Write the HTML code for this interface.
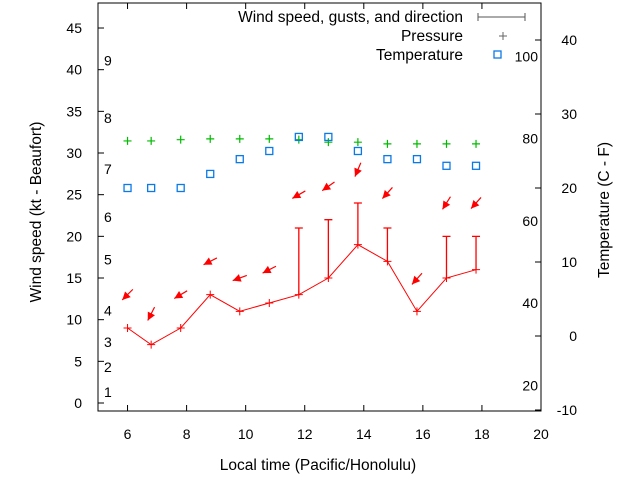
<!DOCTYPE html>
<html><head><meta charset="utf-8"><style>
body{margin:0;background:#fff}
svg{display:block;font-family:"Liberation Sans",sans-serif;font-size:14px}
.big{font-size:15.5px}
</style></head><body>
<svg id="chart" width="640" height="480">
<rect x="0" y="0" width="640" height="480" fill="#fff"/>
<g id="axes"></g><g id="series"></g>
</svg>
<script>
const times=[6,6.8,7.8,8.8,9.8,10.8,11.8,12.8,13.8,14.8,15.8,16.8,17.8];
const wind=[9,7,9,13,11,12,13,15,19,17,11,15,16];
const gusts=[null,null,null,null,null,null,21,22,24,21,null,20,20];
const arrowLevel=[13,10.7,13,17,15,16,25,26,28,25.2,14.9,24,24];
const windDirFrom=[45,27,59,63,70,63,60,55,23,42,42,32,42];
const pressure=[31.45,31.45,31.6,31.7,31.7,31.7,31.6,31.3,31.3,31.1,31.1,31.1,31.1];
const tempC=[20,20,20,21.9,23.9,25,26.9,26.9,25,23.9,23.9,23,23];
const xTicks=[6,8,10,12,14,16,18,20];
const yTicks=[0,5,10,15,20,25,30,35,40,45];
const cTicks=[-10,0,10,20,30,40];
const fTicks=[20,40,60,80,100];
const beaufort=[[1,1.3],[2,4.3],[3,7.3],[4,11.1],[5,17.2],[6,22.3],[7,28.1],[8,34.2],[9,41.1]];
const L=98,R=541,T=3,B=411;
const X=v=>L+(v-5)/15*(R-L);
const Y=v=>403-v*8.333;
const YC=c=>336-c*7.4;
const YF=f=>YC((f-32)*5/9);
const NS="http://www.w3.org/2000/svg";
function mk(p,tag,a,txt){const e=document.createElementNS(NS,tag);for(const k in a)e.setAttribute(k,a[k]);if(txt!=null)e.textContent=txt;p.appendChild(e);return e;}
const ax=document.getElementById('axes'),se=document.getElementById('series');
let e=mk(ax,'rect',{x:L,y:T,width:R-L,height:B-T,fill:'none',stroke:'#000','stroke-width':1});


xTicks.forEach(t=>{const x=X(t);
mk(ax,'line',{x1:x,y1:B,x2:x,y2:B-6,stroke:'#000'});mk(ax,'line',{x1:x,y1:T,x2:x,y2:T+6,stroke:'#000'});
e=mk(ax,'text',{x:x,y:439,'text-anchor':'middle'},t);

});
yTicks.forEach(t=>{const y=Y(t);mk(ax,'line',{x1:L,y1:y,x2:L+6,y2:y,stroke:'#000'});
e=mk(ax,'text',{x:82,y:y+5,'text-anchor':'end'},t);

});
cTicks.forEach(t=>{const y=YC(t);mk(ax,'line',{x1:R,y1:y,x2:R-6,y2:y,stroke:'#000'});
e=mk(ax,'text',{x:577,y:y+5,'text-anchor':'end'},t);

});
fTicks.forEach(t=>{e=mk(ax,'text',{x:538,y:YF(t)+5,'text-anchor':'end'},t);

});
beaufort.forEach(b=>{e=mk(ax,'text',{x:104,y:Y(b[1])+5},b[0]);

});
e=mk(ax,'text',{x:318,y:470,'text-anchor':'middle','class':'big'},'Local time (Pacific/Honolulu)');


e=mk(ax,'text',{x:41,y:212,'text-anchor':'middle','class':'big',transform:'rotate(-90 41 212)'},'Wind speed (kt - Beaufort)');


e=mk(ax,'text',{x:609,y:210,'text-anchor':'middle','class':'big',transform:'rotate(-90 609 210)'},'Temperature (C - F)');


e=mk(ax,'text',{x:463,y:22,'text-anchor':'end','class':'big'},'Wind speed, gusts, and direction');


mk(ax,'path',{d:'M478 17H525M478 13V21M525 13V21',stroke:'#555',fill:'none'});
e=mk(ax,'text',{x:463,y:41,'text-anchor':'end','class':'big'},'Pressure');


mk(ax,'path',{d:'M499 36H507M503 32V40',stroke:'#666'});
e=mk(ax,'text',{x:463,y:60,'text-anchor':'end','class':'big'},'Temperature');


mk(ax,'rect',{x:494,y:51,width:7,height:7,fill:'none',stroke:'#0a7ae8','stroke-width':1.3});
e=mk(se,'polyline',{points:times.map((t,i)=>X(t)+','+Y(wind[i])).join(' '),fill:'none',stroke:'#f00'});


times.forEach((t,i)=>{const x=X(t),y=Y(wind[i]);
e=mk(se,'path',{d:`M${x-4} ${y}H${x+4}M${x} ${y-4}V${y+4}`,stroke:'#f00'});


if(gusts[i]!=null){const g=Y(gusts[i]);
e=mk(se,'path',{d:`M${x} ${y}V${g}M${x-4} ${g}H${x+4}`,stroke:'#f00','stroke-width':1.3});

}
const a=(windDirFrom[i]+180)*Math.PI/180, dx=Math.sin(a)*7.5, dy=-Math.cos(a)*7.5;
const cx=x,cy=Y(arrowLevel[i]);
const hx=cx+dx,hy=cy+dy,tx=cx-dx,ty=cy-dy;
const ux=dx/7.5,uy=dy/7.5;
const p1=(hx-ux*8-uy*4)+','+(hy-uy*8+ux*4),p2=(hx-ux*8+uy*4)+','+(hy-uy*8-ux*4);
e=mk(se,'g',{});


mk(e,'line',{x1:tx,y1:ty,x2:hx,y2:hy,stroke:'#f00','stroke-width':1.2});
mk(e,'polygon',{points:`${hx},${hy} ${p1} ${p2}`,fill:'#f00'});
const py=Y(pressure[i]);
e=mk(se,'path',{d:`M${x-4} ${py}H${x+4}M${x} ${py-4}V${py+4}`,stroke:'#0b0','stroke-width':1.2});


const ty2=YC(tempC[i]);
e=mk(se,'rect',{x:x-3.5,y:ty2-3.5,width:7,height:7,fill:'none',stroke:'#0a7ae8','stroke-width':1.3});


});
</script>
</body></html>
